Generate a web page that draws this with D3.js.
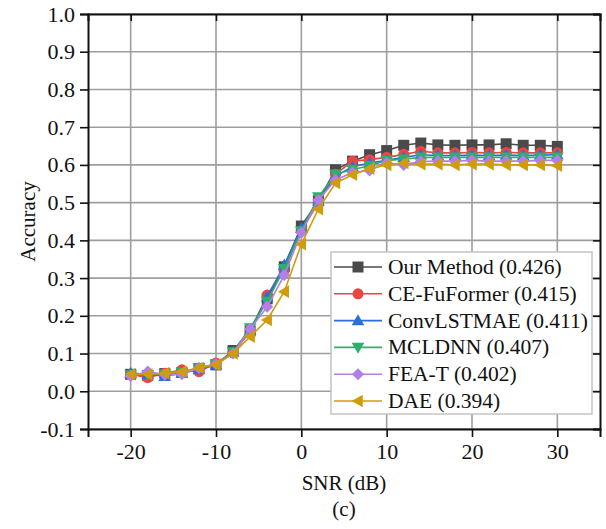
<!DOCTYPE html>
<html>
<head>
<meta charset="utf-8">
<script src="https://cdnjs.cloudflare.com/ajax/libs/d3/7.8.5/d3.min.js"></script>
<style>
  body { margin: 0; background: #fff; }
  svg text { font-family: "Liberation Serif", "Times New Roman", serif; }
</style>
</head>
<body>
<div id="chart"></div>
<script>
// data
var snr = [-20, -18, -16, -14, -12, -10, -8, -6, -4, -2, 0, 2, 4, 6, 8, 10, 12, 14, 16, 18, 20, 22, 24, 26, 28, 30];

var ourMethod  = [0.045, 0.042, 0.047, 0.050, 0.060, 0.070, 0.108, 0.160, 0.245, 0.330, 0.438, 0.505, 0.587, 0.610, 0.627, 0.638, 0.652, 0.658, 0.653, 0.652, 0.653, 0.653, 0.656, 0.652, 0.652, 0.649];
var ceFuFormer = [0.045, 0.036, 0.048, 0.057, 0.052, 0.075, 0.102, 0.158, 0.255, 0.322, 0.425, 0.500, 0.575, 0.610, 0.614, 0.620, 0.628, 0.636, 0.632, 0.632, 0.633, 0.632, 0.633, 0.632, 0.632, 0.632];
var convLSTMAE = [0.048, 0.045, 0.040, 0.048, 0.058, 0.070, 0.104, 0.162, 0.250, 0.335, 0.432, 0.505, 0.570, 0.595, 0.605, 0.612, 0.620, 0.627, 0.625, 0.625, 0.626, 0.625, 0.626, 0.625, 0.626, 0.627];
var mcldnn     = [0.043, 0.044, 0.046, 0.050, 0.062, 0.072, 0.104, 0.168, 0.238, 0.325, 0.425, 0.515, 0.575, 0.588, 0.598, 0.612, 0.615, 0.620, 0.620, 0.620, 0.620, 0.620, 0.620, 0.620, 0.620, 0.620];
var feaT       = [0.040, 0.052, 0.044, 0.045, 0.062, 0.072, 0.100, 0.165, 0.224, 0.308, 0.420, 0.507, 0.560, 0.580, 0.585, 0.605, 0.600, 0.609, 0.610, 0.610, 0.612, 0.610, 0.610, 0.610, 0.612, 0.612];
var dae        = [0.045, 0.045, 0.048, 0.052, 0.062, 0.070, 0.100, 0.145, 0.189, 0.264, 0.390, 0.483, 0.552, 0.574, 0.590, 0.600, 0.605, 0.602, 0.602, 0.600, 0.602, 0.602, 0.600, 0.600, 0.600, 0.598];

var seriesNames = ["Our Method (0.426)", "CE-FuFormer (0.415)", "ConvLSTMAE (0.411)", "MCLDNN (0.407)", "FEA-T (0.402)", "DAE (0.394)"];
var seriesValues = [ourMethod, ceFuFormer, convLSTMAE, mcldnn, feaT, dae];

var xTicks = [-20, -10, 0, 10, 20, 30];
var yTicks = [-0.1, 0.0, 0.1, 0.2, 0.3, 0.4, 0.5, 0.6, 0.7, 0.8, 0.9, 1.0];

// look of each series
var colors = ["#4a4a4a", "#f04343", "#2a6fdc", "#2fae6c", "#b27fe6", "#d19c0c"];
var shapes = ["square", "circle", "up", "down", "diamond", "left"];

var serif = "'Liberation Serif', 'Times New Roman', serif";

// set the dimensions and margins of the graph
var margin = {top: 14, right: 6, bottom: 100, left: 88},
    width = 606 - margin.left - margin.right,
    height = 529 - margin.top - margin.bottom;

var svg = d3.select("#chart")
  .append("svg")
    .attr("width", 606)
    .attr("height", 529)
  .append("g")
    .attr("transform", "translate(" + margin.left + "," + margin.top + ")");

var x = d3.scaleLinear()
  .domain([-25, 35])
  .range([0, width]);

var y = d3.scaleLinear()
  .domain([-0.1, 1.0])
  .range([height, 0]);

// gridlines
svg.append("g")
  .selectAll("line")
  .data(xTicks)
  .enter()
  .append("line")
    .attr("x1", function (d) { return x(d); })
    .attr("x2", function (d) { return x(d); })
    .attr("y1", 0)
    .attr("y2", height)
    .attr("stroke", "#9e9e9e")
    .attr("stroke-width", 1.6);

svg.append("g")
  .selectAll("line")
  .data(yTicks)
  .enter()
  .append("line")
    .attr("x1", 0)
    .attr("x2", width)
    .attr("y1", function (d) { return y(d); })
    .attr("y2", function (d) { return y(d); })
    .attr("stroke", "#9e9e9e")
    .attr("stroke-width", 1.6);

// axes (plain hyphen for negatives, like the figure)
var bottomAxis = svg.append("g")
  .attr("transform", "translate(0," + height + ")")
  .call(d3.axisBottom(x).tickValues(xTicks).tickSize(8).tickPadding(6).tickFormat(function (d) { return String(d); }));

var leftAxis = svg.append("g")
  .call(d3.axisLeft(y).tickValues(yTicks).tickSize(8).tickPadding(5).tickFormat(function (d) { return d.toFixed(1); }));

var topAxis = svg.append("g")
  .call(d3.axisBottom(x).tickValues(xTicks).tickSize(7).tickFormat(""));

var rightAxis = svg.append("g")
  .attr("transform", "translate(" + width + ",0)")
  .call(d3.axisLeft(y).tickValues(yTicks).tickSize(7).tickFormat(""));

[bottomAxis, leftAxis, topAxis, rightAxis].forEach(function (a) {
  a.attr("font-family", serif).attr("font-size", 22);
  a.select(".domain").attr("stroke", "#111").attr("stroke-width", 2);
  a.selectAll(".tick line").attr("stroke", "#111").attr("stroke-width", 1.6);
  a.selectAll(".tick text").attr("fill", "#111");
});

// marker shapes
function markerPath(shape, size) {
  var s = size / 2;
  if (shape == "square") return "M" + (-s) + "," + (-s) + "H" + s + "V" + s + "H" + (-s) + "Z";
  if (shape == "circle") return d3.symbol().type(d3.symbolCircle).size(Math.PI * s * s)();
  if (shape == "diamond") return "M0," + (-s * 1.1) + "L" + (s * 1.1) + ",0L0," + (s * 1.1) + "L" + (-s * 1.1) + ",0Z";
  var t = s * 1.15;
  if (shape == "up") return "M0," + (-t) + "L" + t + "," + (t * 0.75) + "L" + (-t) + "," + (t * 0.75) + "Z";
  if (shape == "down") return "M0," + t + "L" + t + "," + (-t * 0.75) + "L" + (-t) + "," + (-t * 0.75) + "Z";
  if (shape == "left") return "M" + (-t) + ",0L" + (t * 0.75) + "," + (-t) + "L" + (t * 0.75) + "," + t + "Z";
}

var line = d3.line()
  .x(function (d) { return x(d[0]); })
  .y(function (d) { return y(d[1]); });

// draw every series
seriesValues.forEach(function (vals, i) {
  var pts = snr.map(function (s, j) { return [s, vals[j]]; });

  svg.append("path")
    .datum(pts)
    .attr("fill", "none")
    .attr("stroke", colors[i])
    .attr("stroke-width", 1.6)
    .attr("d", line);

  svg.append("g")
    .selectAll("path")
    .data(pts)
    .enter()
    .append("path")
      .attr("transform", function (d) { return "translate(" + x(d[0]) + "," + y(d[1]) + ")"; })
      .attr("d", markerPath(shapes[i], 11))
      .attr("fill", colors[i]);
});

// legend
var legend = svg.append("g")
  .attr("transform", "translate(" + (331 - margin.left) + "," + (252 - margin.top) + ")");

legend.append("rect")
  .attr("width", 261)
  .attr("height", 162)
  .attr("fill", "#fff")
  .attr("stroke", "#c4c4c4")
  .attr("stroke-width", 1.5);

var rows = legend.selectAll(".row")
  .data(seriesNames)
  .enter()
  .append("g")
    .attr("class", "row")
    .attr("transform", function (d, i) { return "translate(0," + (15 + i * 26.8) + ")"; });

rows.append("line")
  .attr("x1", 3)
  .attr("x2", 51)
  .attr("stroke", function (d, i) { return colors[i]; })
  .attr("stroke-width", 1.6);

rows.append("path")
  .attr("transform", "translate(27,0)")
  .attr("d", function (d, i) { return markerPath(shapes[i], 11); })
  .attr("fill", function (d, i) { return colors[i]; });

rows.append("text")
  .attr("x", 57)
  .attr("y", 7)
  .attr("font-family", serif)
  .attr("font-size", 21.5)
  .attr("fill", "#111")
  .text(function (d) { return d; });

// axis titles
svg.append("text")
  .attr("text-anchor", "middle")
  .attr("transform", "translate(" + (28 - margin.left) + "," + (height / 2) + ") rotate(-90)")
  .attr("dy", "0.35em")
  .attr("font-family", serif)
  .attr("font-size", 21)
  .attr("fill", "#111")
  .text("Accuracy");

svg.append("text")
  .attr("text-anchor", "middle")
  .attr("x", width / 2)
  .attr("y", 490 - margin.top)
  .attr("font-family", serif)
  .attr("font-size", 21)
  .attr("fill", "#111")
  .text("SNR (dB)");

svg.append("text")
  .attr("text-anchor", "middle")
  .attr("x", width / 2)
  .attr("y", 516 - margin.top)
  .attr("font-family", serif)
  .attr("font-size", 21)
  .attr("fill", "#111")
  .text("(c)");
</script>
</body>
</html>
